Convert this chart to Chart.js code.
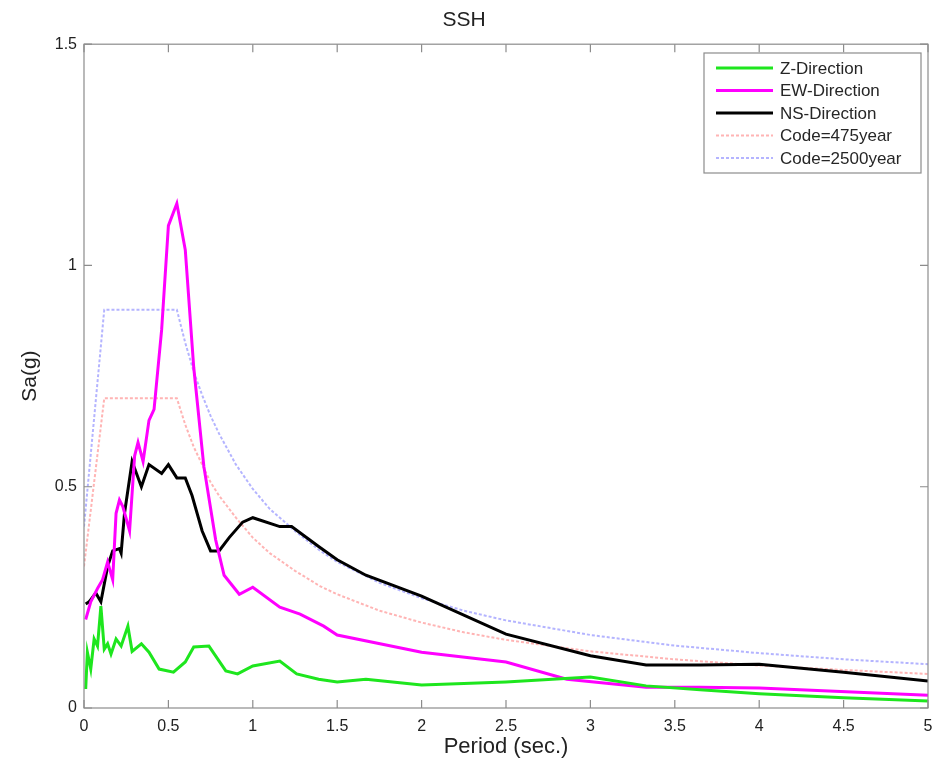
<!DOCTYPE html>
<html>
<head>
<meta charset="utf-8">
<script src="https://cdn.jsdelivr.net/npm/chart.js@4.4.0/dist/chart.umd.min.js"></script>
<style>
  html, body { margin: 0; padding: 0; background: #fff; }
  #wrap { width: 942px; height: 771px; }
</style>
</head>
<body>
<div id="wrap"><canvas id="canvas" width="942" height="771"></canvas></div>
<script>
// periods (sec.) and spectral accelerations (g)
const zT  = [0.01, 0.02, 0.04, 0.06, 0.08, 0.10, 0.12, 0.14, 0.16, 0.19, 0.22, 0.26, 0.285, 0.34, 0.385, 0.445, 0.53, 0.60, 0.65, 0.74, 0.84, 0.91, 1.0, 1.16, 1.26, 1.39, 1.5, 1.67, 2.0, 2.5, 3.0, 3.33, 3.65, 4.0, 4.5, 5.0];
const zSa = [0.043, 0.126, 0.088, 0.156, 0.14, 0.23, 0.133, 0.145, 0.122, 0.156, 0.14, 0.185, 0.128, 0.145, 0.126, 0.088, 0.081, 0.104, 0.138, 0.14, 0.084, 0.077, 0.095, 0.106, 0.077, 0.065, 0.059, 0.065, 0.052, 0.059, 0.07, 0.05, 0.041, 0.032, 0.023, 0.016];

const ewT  = [0.01, 0.04, 0.08, 0.11, 0.14, 0.17, 0.19, 0.21, 0.23, 0.27, 0.30, 0.32, 0.35, 0.385, 0.415, 0.46, 0.50, 0.55, 0.60, 0.65, 0.71, 0.78, 0.83, 0.92, 1.0, 1.16, 1.28, 1.42, 1.5, 2.0, 2.5, 2.86, 3.33, 3.65, 4.0, 5.0];
const ewSa = [0.20, 0.24, 0.27, 0.29, 0.33, 0.29, 0.44, 0.47, 0.455, 0.40, 0.57, 0.60, 0.557, 0.65, 0.675, 0.855, 1.09, 1.14, 1.035, 0.77, 0.546, 0.38, 0.30, 0.257, 0.273, 0.228, 0.212, 0.185, 0.165, 0.126, 0.104, 0.065, 0.047, 0.047, 0.045, 0.029];

const nsT  = [0.01, 0.03, 0.07, 0.10, 0.14, 0.17, 0.21, 0.22, 0.24, 0.285, 0.34, 0.385, 0.46, 0.50, 0.55, 0.60, 0.64, 0.70, 0.75, 0.80, 0.86, 0.94, 1.0, 1.16, 1.23, 1.39, 1.5, 1.67, 2.0, 2.5, 3.0, 3.33, 3.65, 4.0, 4.5, 5.0];
const nsSa = [0.235, 0.24, 0.26, 0.24, 0.32, 0.355, 0.36, 0.35, 0.44, 0.557, 0.50, 0.55, 0.53, 0.55, 0.52, 0.52, 0.48, 0.40, 0.355, 0.355, 0.385, 0.42, 0.43, 0.41, 0.41, 0.365, 0.335, 0.30, 0.253, 0.167, 0.118, 0.097, 0.097, 0.099, 0.081, 0.061];

const codeT    = [0, 0.12, 0.55, 0.6, 0.65, 0.7, 0.75, 0.8, 0.9, 1.0, 1.1, 1.25, 1.4, 1.5, 1.75, 2, 2.25, 2.5, 3, 3.5, 4, 4.5, 5];
const code475  = [0.32, 0.70, 0.70, 0.64, 0.59, 0.55, 0.51, 0.48, 0.43, 0.385, 0.35, 0.31, 0.275, 0.257, 0.22, 0.193, 0.171, 0.154, 0.128, 0.11, 0.096, 0.086, 0.077];
const code2500 = [0.41, 0.90, 0.90, 0.825, 0.76, 0.707, 0.66, 0.62, 0.55, 0.495, 0.45, 0.40, 0.355, 0.33, 0.283, 0.248, 0.22, 0.198, 0.165, 0.141, 0.124, 0.11, 0.099];

const xTicks = [0, 0.5, 1, 1.5, 2, 2.5, 3, 3.5, 4, 4.5, 5];
const yTicks = [0, 0.5, 1, 1.5];

const pts = (xs, ys) => xs.map((x, i) => ({ x: x, y: ys[i] }));
const FONT = '"Liberation Sans", Arial, Helvetica, sans-serif';

const datasets = [
  { label: 'Z-Direction', data: pts(zT, zSa), borderColor: '#1ee61e', borderWidth: 3 },
  { label: 'EW-Direction', data: pts(ewT, ewSa), borderColor: '#ff00ff', borderWidth: 3 },
  { label: 'NS-Direction', data: pts(nsT, nsSa), borderColor: '#000000', borderWidth: 3 },
  { label: 'Code=475year', data: pts(codeT, code475), borderColor: '#ffb4b4', borderWidth: 2, borderDash: [3, 2] },
  { label: 'Code=2500year', data: pts(codeT, code2500), borderColor: '#b4b4ff', borderWidth: 2, borderDash: [3, 2] },
];
datasets.forEach(d => { d.showLine = true; d.pointRadius = 0; d.tension = 0; d.fill = false; });

// box around the plot with inward ticks on all sides, like matlab
const boxPlugin = {
  id: 'box',
  afterDraw(chart) {
    const { ctx, chartArea: a, scales } = chart;
    ctx.save();
    ctx.strokeStyle = '#8c8c8c';
    ctx.lineWidth = 1.2;
    ctx.strokeRect(a.left, a.top, a.right - a.left, a.bottom - a.top);
    ctx.beginPath();
    xTicks.forEach(v => {
      const px = scales.x.getPixelForValue(v);
      ctx.moveTo(px, a.bottom); ctx.lineTo(px, a.bottom - 8);
      ctx.moveTo(px, a.top); ctx.lineTo(px, a.top + 8);
    });
    yTicks.forEach(v => {
      const py = scales.y.getPixelForValue(v);
      ctx.moveTo(a.left, py); ctx.lineTo(a.left + 8, py);
      ctx.moveTo(a.right, py); ctx.lineTo(a.right - 8, py);
    });
    ctx.stroke();

    // legend box, top right
    const lx = 704, ly = 53, lw = 217, lh = 120;
    ctx.fillStyle = '#fff';
    ctx.fillRect(lx, ly, lw, lh);
    ctx.strokeStyle = '#8c8c8c';
    ctx.strokeRect(lx, ly, lw, lh);
    const rows = [68, 90.5, 113, 135.5, 158];
    ctx.font = '17px ' + FONT;
    ctx.textBaseline = 'middle';
    ctx.textAlign = 'left';
    chart.data.datasets.forEach((d, i) => {
      ctx.beginPath();
      ctx.strokeStyle = d.borderColor;
      ctx.lineWidth = d.borderWidth;
      ctx.setLineDash(d.borderDash || []);
      ctx.moveTo(716, rows[i]); ctx.lineTo(773, rows[i]);
      ctx.stroke();
      ctx.setLineDash([]);
      ctx.fillStyle = '#262626';
      ctx.fillText(d.label, 780, rows[i] + 1);
    });
    ctx.restore();
  }
};

const config = {
  type: 'scatter',
  data: { datasets: datasets },
  options: {
    responsive: false,
    animation: false,
    layout: { padding: { left: 0, right: 14, top: 0, bottom: 0 } },
    plugins: {
      legend: { display: false },
      tooltip: { enabled: false },
      title: {
        display: true,
        text: 'SSH',
        color: '#222',
        font: { family: FONT, size: 21, weight: 'normal' },
        padding: { top: 8, bottom: 11 },
      },
    },
    scales: {
      x: {
        type: 'linear', min: 0, max: 5,
        afterBuildTicks: s => { s.ticks = xTicks.map(v => ({ value: v })); },
        afterFit: s => { s.height = 63; },
        grid: { display: false, drawTicks: false },
        border: { display: false },
        ticks: { color: '#222', padding: 9, maxRotation: 0, font: { family: FONT, size: 16 }, callback: v => String(v) },
        title: { display: true, text: 'Period (sec.)', color: '#222', padding: { top: 0, bottom: 11 }, font: { family: FONT, size: 22 } },
      },
      y: {
        type: 'linear', min: 0, max: 1.5,
        afterBuildTicks: s => { s.ticks = yTicks.map(v => ({ value: v })); },
        afterFit: s => { s.width = 84; },
        grid: { display: false, drawTicks: false },
        border: { display: false },
        ticks: { color: '#222', padding: 7, font: { family: FONT, size: 16 }, callback: v => String(v) },
        title: { display: true, text: 'Sa(g)', color: '#222', padding: { top: 18, bottom: 0 }, font: { family: FONT, size: 21 } },
      },
    },
  },
  plugins: [boxPlugin],
};

const canvas = document.getElementById('canvas');
const chart = new Chart(canvas, config);
</script>
</body>
</html>
